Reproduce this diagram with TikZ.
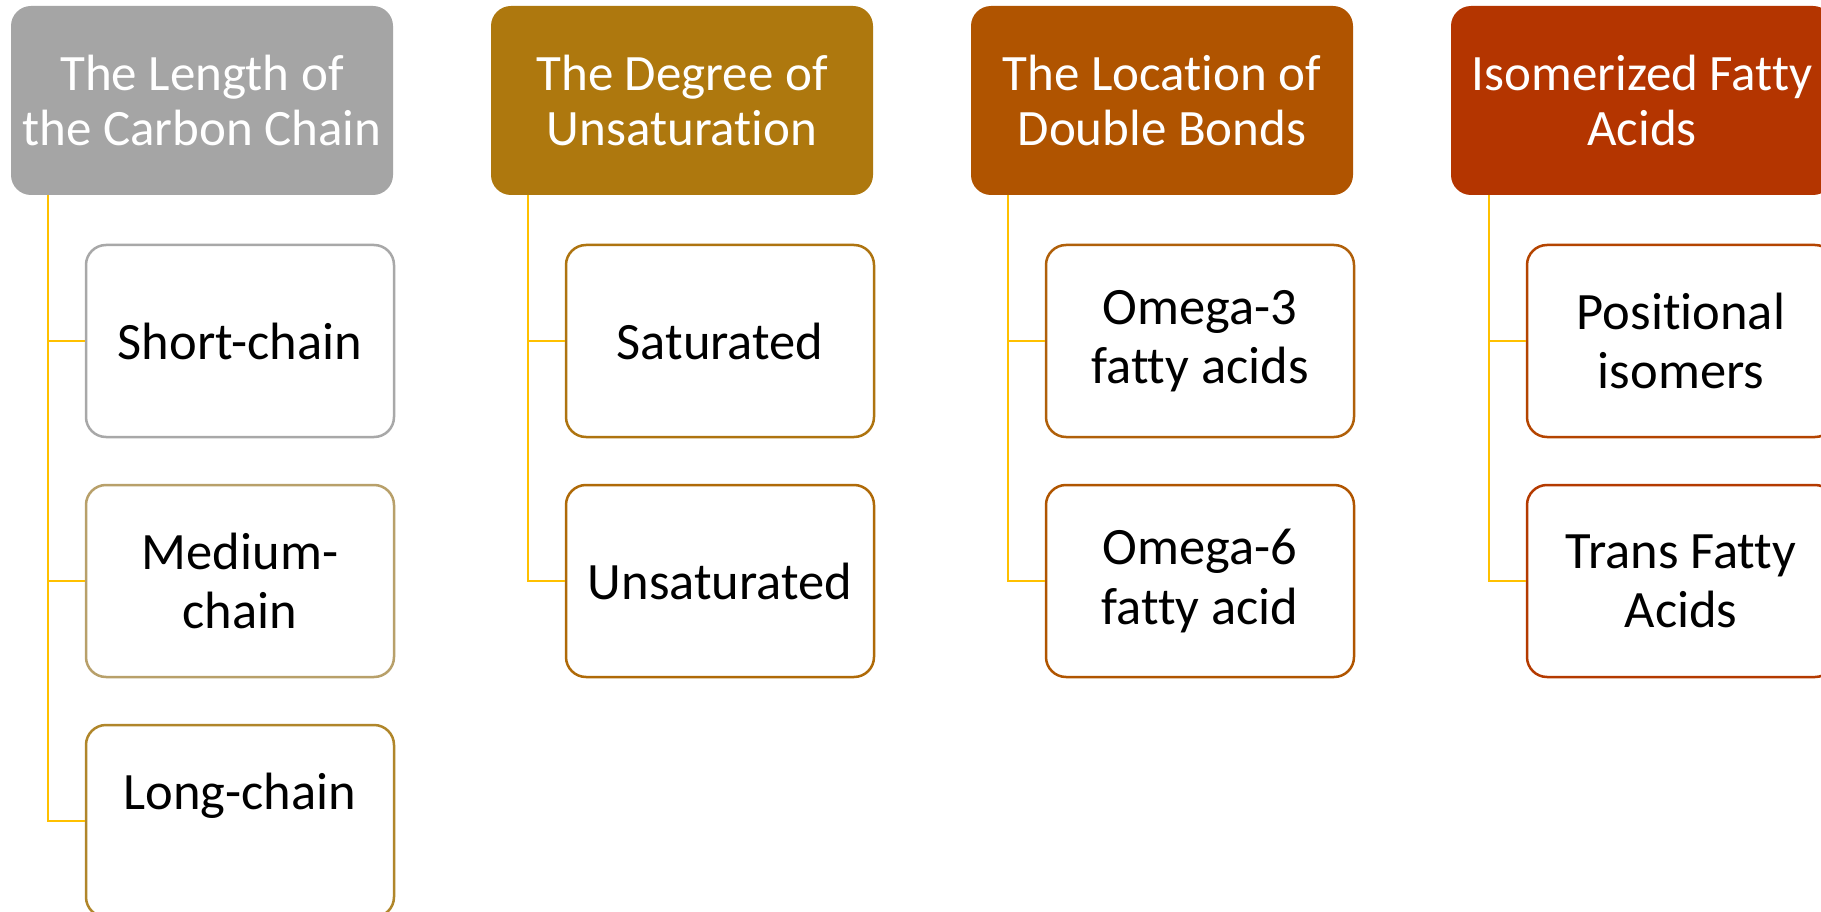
\documentclass[tikz,border=0pt]{standalone}
\usepackage{fontspec}
\setmainfont{Carlito}[Ligatures={NoCommon}]
\definecolor{hA}{HTML}{A5A5A5}
\definecolor{hB}{HTML}{AE780E}
\definecolor{hC}{HTML}{B05400}
\definecolor{hD}{HTML}{B43500}
\definecolor{cA1}{HTML}{A8A8A8}
\definecolor{cA2}{HTML}{B8A06A}
\definecolor{cA3}{HTML}{B0862A}
\definecolor{cB1}{HTML}{AE7410}
\definecolor{cB2}{HTML}{AF6A08}
\definecolor{cC1}{HTML}{B0600A}
\definecolor{cC2}{HTML}{B05500}
\definecolor{cD1}{HTML}{B44400}
\definecolor{cD2}{HTML}{B43A00}
\definecolor{conncol}{HTML}{FFC000}
\tikzset{
  headbox/.style={rectangle, rounded corners=20pt, minimum width=382pt, minimum height=189pt,
    inner sep=0pt, align=center, text=white, font=\fontsize{51}{55.5}\selectfont},
  childbox/.style={rectangle, rounded corners=20pt, minimum width=308pt, minimum height=192pt,
    inner sep=0pt, align=center, fill=white, line width=2.5pt, text=black,
    font=\fontsize{52.5}{59}\selectfont},
  conn/.style={draw=conncol, line width=2.6pt}
}
\begin{document}
\begin{tikzpicture}[x=1pt,y=-1pt]
\clip (0,0) rectangle (1821,912);
\fill[white] (0,0) rectangle (1821,912);
% column 1
\node[headbox, fill=hA] (h1) at (202,100.5) {The Length of\\the Carbon Chain};
\node[childbox, draw=cA1] (c11) at (240,341) {Short-chain};
\node[childbox, draw=cA2] (c12) at (240,581) {Medium-\\chain};
\node[childbox, draw=cA3] (c13) at (240,821) {Long-chain\\\mbox{}};
\coordinate (l1) at (48,195);
\draw[conn] (l1) |- (c11.west);
\draw[conn] (l1) |- (c12.west);
\draw[conn] (l1) |- (c13.west);
% column 2
\node[headbox, fill=hB] (h2) at (682,100.5) {The Degree of\\Unsaturation};
\node[childbox, draw=cB1] (c21) at (720,341) {Saturated};
\node[childbox, draw=cB2] (c22) at (720,581) {Unsaturated};
\coordinate (l2) at (528,195);
\draw[conn] (l2) |- (c21.west);
\draw[conn] (l2) |- (c22.west);
% column 3
\node[headbox, fill=hC] (h3) at (1162,100.5) {The Location of\\Double Bonds};
\node[childbox, draw=cC1] (c31) at (1200,341) {Omega-3\\fatty acids};
\node[childbox, draw=cC2] (c32) at (1200,581) {Omega-6\\fatty acid};
\coordinate (l3) at (1008,195);
\draw[conn] (l3) |- (c31.west);
\draw[conn] (l3) |- (c32.west);
% column 4
\node[headbox, fill=hD] (h4) at (1642,100.5) {Isomerized Fatty\\Acids};
\node[childbox, draw=cD1] (c41) at (1681,341) {Positional\\isomers};
\node[childbox, draw=cD2] (c42) at (1681,581) {Trans Fatty\\Acids};
\coordinate (l4) at (1489,195);
\draw[conn] (l4) |- (c41.west);
\draw[conn] (l4) |- (c42.west);
\end{tikzpicture}
\end{document}
